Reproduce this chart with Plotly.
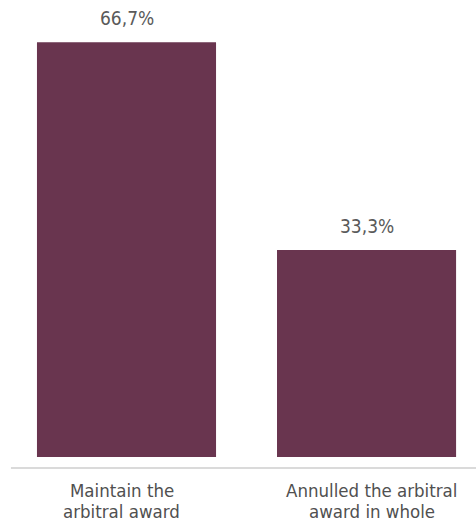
import plotly.graph_objects as go

categories = ["Maintain the<br>arbitral award", "Annulled the arbitral<br>award in whole"]
values = [66.7, 33.3]
value_labels = ["66,7%", "33,3%"]

FONT = "DejaVu Sans Condensed, Liberation Sans Narrow, sans-serif"
xs = [0, 1]
PLOT_H = 457  # px height of plot area
label_shift = [-5, 5]

fig = go.Figure(go.Bar(x=xs, y=values, width=0.746, marker_color="#69354f",
                       marker_line_width=0, hoverinfo="skip"))

for x, v, t in zip(xs, values, value_labels):
    fig.add_annotation(x=x, y=v, text=t, showarrow=False, xref="x", yref="y",
                       yanchor="bottom", yshift=11,
                       font=dict(family=FONT, size=19, color="#5a5a5a"))

line_centers = [490, 511]
for x, c, sh in zip(xs, categories, label_shift):
    for line, py in zip(c.split("<br>"), line_centers):
        fig.add_annotation(x=x, y=(PLOT_H - py) / PLOT_H, text=line, showarrow=False,
                           xref="x", yref="paper", yanchor="middle", xshift=sh,
                           font=dict(family=FONT, size=18.5, color="#505050"))

fig.add_shape(type="line", xref="paper", yref="paper", x0=0.023, x1=1,
              y0=(PLOT_H - 468) / PLOT_H, y1=(PLOT_H - 468) / PLOT_H,
              line=dict(color="#dadada", width=2))

fig.update_layout(
    width=476, height=529,
    margin=dict(l=0, r=0, t=0, b=529 - PLOT_H),
    plot_bgcolor="white", paper_bgcolor="white",
    showlegend=False,
    xaxis=dict(range=[-0.527, 1.456], showticklabels=False, showgrid=False, zeroline=False,
               showline=False, ticks=""),
    yaxis=dict(range=[0, 73.5], showticklabels=False, showgrid=False, zeroline=False,
               showline=False, ticks=""),
)

fig.write_html("out.html")
